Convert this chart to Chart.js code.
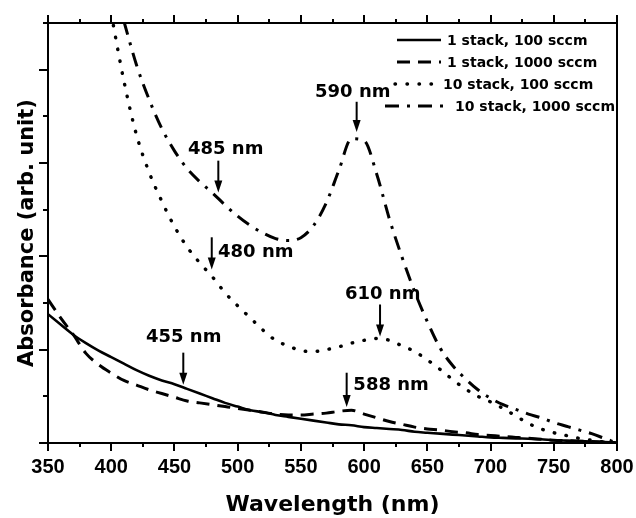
<!DOCTYPE html>
<html>
<head>
<meta charset="utf-8">
<script src="https://cdn.jsdelivr.net/npm/chart.js@4.4.1/dist/chart.umd.min.js"></script>
<style>
  html, body { margin: 0; padding: 0; background: #fff; }
</style>
</head>
<body>
<canvas id="absChart" width="636" height="518"></canvas>
<script>
// wavelength grid (nm)
const wavelengths = [350, 360, 370, 380, 390, 400, 410, 420, 430, 440,
  450, 460, 470, 480, 490, 500, 510, 520, 530, 540,
  550, 560, 570, 580, 590, 600, 610, 620, 630, 640,
  650, 660, 670, 680, 690, 700, 710, 720, 730, 740,
  750, 760, 770, 780, 790, 800];

const seriesNames = ['1 stack, 100 sccm', '1 stack, 1000 sccm', '10 stack, 100 sccm', '10 stack, 1000 sccm'];

const oneStack100 = [1.38, 1.27, 1.16, 1.07, 0.99, 0.92, 0.85, 0.78, 0.72, 0.67,
  0.63, 0.58, 0.53, 0.48, 0.43, 0.39, 0.35, 0.33, 0.30, 0.28,
  0.26, 0.24, 0.22, 0.20, 0.19, 0.17, 0.16, 0.15, 0.14, 0.12,
  0.11, 0.10, 0.09, 0.08, 0.07, 0.06, 0.055, 0.05, 0.045, 0.04,
  0.03, 0.025, 0.02, 0.015, 0.01, 0.005];

const oneStack1000 = [1.54, 1.34, 1.16, 0.96, 0.84, 0.75, 0.67, 0.62, 0.57, 0.53,
  0.49, 0.45, 0.43, 0.41, 0.39, 0.37, 0.35, 0.33, 0.31, 0.30,
  0.30, 0.31, 0.32, 0.34, 0.35, 0.31, 0.27, 0.23, 0.20, 0.17,
  0.15, 0.14, 0.12, 0.11, 0.09, 0.08, 0.07, 0.06, 0.05, 0.04,
  0.03, 0.025, 0.02, 0.015, 0.01, 0.0];

const tenStack100 = [null, null, null, null, null, 4.6, 3.88, 3.30, 2.90, 2.59,
  2.32, 2.10, 1.93, 1.78, 1.61, 1.47, 1.34, 1.21, 1.10, 1.04,
  0.99, 0.98, 1.00, 1.03, 1.07, 1.10, 1.12, 1.10, 1.04, 0.98,
  0.89, 0.79, 0.68, 0.58, 0.50, 0.44, 0.37, 0.29, 0.21, 0.15,
  0.11, 0.08, 0.05, 0.03, 0.01, 0.0];

const tenStack1000 = [null, null, null, null, null, null, 4.52, 4.05, 3.68, 3.37,
  3.13, 2.94, 2.80, 2.68, 2.55, 2.43, 2.33, 2.25, 2.19, 2.17,
  2.20, 2.33, 2.57, 2.92, 3.26, 3.24, 2.88, 2.40, 1.99, 1.62,
  1.30, 1.02, 0.83, 0.69, 0.57, 0.48, 0.41, 0.36, 0.31, 0.27,
  0.22, 0.18, 0.14, 0.10, 0.05, 0.0];

// peak / shoulder labels: text, arrow wavelength, arrow start and tip (absorbance)
const peakNotes = [
  { text: '590 nm', tx: 561.2, ty: 3.71, ax: 594.1, from: 3.656, to: 3.333 },
  { text: '485 nm', tx: 460.7, ty: 3.097, ax: 484.7, from: 3.025, to: 2.685 },
  { text: '480 nm', tx: 484.5, ty: 1.989, ax: 479.5, from: 2.204, to: 1.86 },
  { text: '610 nm', tx: 584.9, ty: 1.538, ax: 612.6, from: 1.484, to: 1.14 },
  { text: '455 nm', tx: 427.5, ty: 1.086, ax: 457.0, from: 0.968, to: 0.624 },
  { text: '588 nm', tx: 591.5, ty: 0.57, ax: 586.2, from: 0.753, to: 0.387 }
];

function pts(values) {
  return wavelengths.map((w, i) => ({ x: w, y: values[i] }));
}

const lineStyles = [
  { borderWidth: 2.6, borderDash: [], borderCapStyle: 'butt' },
  { borderWidth: 3, borderDash: [13, 8], borderCapStyle: 'butt' },
  { borderWidth: 3.4, borderDash: [0.5, 11.5], borderCapStyle: 'round' },
  { borderWidth: 3, borderDash: [14, 8, 3, 8], borderCapStyle: 'butt' }
];

const allSeries = [oneStack100, oneStack1000, tenStack100, tenStack1000];

const datasets = allSeries.map((vals, i) => Object.assign({
  label: seriesNames[i],
  data: pts(vals),
  borderColor: '#000',
  backgroundColor: '#000',
  pointRadius: 0,
  fill: false,
  cubicInterpolationMode: 'monotone',
  spanGaps: false
}, lineStyles[i]));

const framePlugin = {
  id: 'frame',
  afterDraw(chart) {
    const { ctx, chartArea: a, scales: { x, y } } = chart;
    ctx.save();
    ctx.strokeStyle = '#000';
    ctx.lineWidth = 2;
    ctx.setLineDash([]);
    ctx.strokeRect(a.left, a.top, a.right - a.left, a.bottom - a.top);
    ctx.beginPath();
    for (let v = 350; v <= 800; v += 25) {
      const px = Math.round(x.getPixelForValue(v));
      const len = v % 50 === 0 ? 8 : 4;
      ctx.moveTo(px, a.bottom); ctx.lineTo(px, a.bottom + len);
      ctx.moveTo(px, a.top); ctx.lineTo(px, a.top - len);
    }
    for (let v = 0; v <= 4.5; v += 0.5) {
      const py = Math.round(y.getPixelForValue(v));
      const len = v % 1 === 0 ? 9 : 5;
      ctx.moveTo(a.left, py); ctx.lineTo(a.left - len, py);
    }
    ctx.stroke();

    // peak labels and arrows
    ctx.fillStyle = '#000';
    ctx.font = 'bold 18px "DejaVu Sans"';
    ctx.textAlign = 'left';
    ctx.textBaseline = 'alphabetic';
    peakNotes.forEach(n => {
      ctx.fillText(n.text, x.getPixelForValue(n.tx), y.getPixelForValue(n.ty));
      const ax = x.getPixelForValue(n.ax);
      const y0 = y.getPixelForValue(n.from);
      const y1 = y.getPixelForValue(n.to);
      ctx.beginPath();
      ctx.lineWidth = 2;
      ctx.moveTo(ax, y0); ctx.lineTo(ax, y1 - 10);
      ctx.stroke();
      ctx.beginPath();
      ctx.moveTo(ax - 4, y1 - 12);
      ctx.lineTo(ax + 4, y1 - 12);
      ctx.lineTo(ax, y1);
      ctx.closePath();
      ctx.fill();
    });

    // legend
    const rows = [
      { x0: 397, x1: 441, tx: 447, y: 40 },
      { x0: 397, x1: 441, tx: 447, y: 62 },
      { x0: 395, x1: 438, tx: 443, y: 84 },
      { x0: 385, x1: 450, tx: 455, y: 106 }
    ];
    ctx.font = 'bold 14px "DejaVu Sans"';
    ctx.textBaseline = 'middle';
    chart.data.datasets.forEach((ds, i) => {
      const r = rows[i];
      ctx.beginPath();
      ctx.lineWidth = ds.borderWidth;
      ctx.lineCap = ds.borderCapStyle;
      ctx.setLineDash(ds.borderDash);
      ctx.moveTo(r.x0, r.y); ctx.lineTo(r.x1, r.y);
      ctx.stroke();
      ctx.setLineDash([]);
      ctx.fillText(ds.label, r.tx, r.y + 1);
    });
    ctx.restore();
  }
};

new Chart(document.getElementById('absChart').getContext('2d'), {
  type: 'line',
  data: { datasets: datasets },
  options: {
    responsive: false,
    animation: false,
    layout: { padding: { top: 23, right: 19, left: 0, bottom: 0 } },
    plugins: { legend: { display: false }, tooltip: { enabled: false } },
    scales: {
      x: {
        type: 'linear',
        min: 350,
        max: 800,
        grid: { display: false },
        border: { display: false },
        ticks: {
          stepSize: 50,
          color: '#000',
          padding: 4,
          font: { family: '"Liberation Sans"', size: 20, weight: 'bold' }
        },
        title: {
          display: true,
          text: 'Wavelength (nm)',
          color: '#000',
          padding: { top: 0, bottom: 0 },
          font: { family: '"DejaVu Sans"', size: 22, weight: 'bold' }
        },
        afterFit(scale) {
          scale.height = 75;
          scale.paddingRight = 0;
        }
      },
      y: {
        min: 0,
        max: 4.5,
        grid: { display: false },
        border: { display: false },
        ticks: { display: false },
        title: {
          display: true,
          text: 'Absorbance (arb. unit)',
          color: '#000',
          padding: { top: 15, bottom: 0 },
          font: { family: '"DejaVu Sans"', size: 21, weight: 'bold' }
        },
        afterFit(scale) { scale.width = 48; }
      }
    }
  },
  plugins: [framePlugin]
});
</script>
</body>
</html>
